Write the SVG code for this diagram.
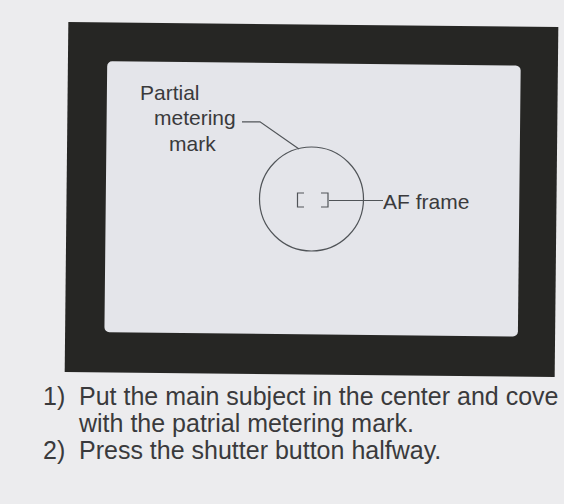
<svg xmlns="http://www.w3.org/2000/svg" width="564" height="504" viewBox="0 0 564 504">
  <style>
    .lbl { font-family: "Liberation Sans", Arial, sans-serif; font-size: 21px; fill: #3a3a3c; }
    .body { font-family: "Liberation Sans", Arial, sans-serif; font-size: 25px; fill: #3a3a3c; }
    .ln { fill: none; stroke: #505458; stroke-width: 1.2; }
  </style>
  <rect x="0" y="0" width="564" height="504" fill="#ececee"/>
  <g id="viewfinder">
    <rect x="66.5" y="24.5" width="490" height="350" fill="#262624" transform="rotate(0.6 311.5 199.5)"/>
    <rect x="105.8" y="63.4" width="413.5" height="271" rx="5" fill="#e4e5ea" transform="rotate(0.6 312.5 198.8)"/>
  </g>
  <g id="metering-mark">
    <circle cx="311.5" cy="199" r="52" class="ln"/>
  </g>
  <g id="af-frame">
    <path d="M304 193 H297.5 V207 H304 M321 193 H328 V207 H321" class="ln" stroke-width="1.6"/>
  </g>
  <g id="label-partial">
    <text class="lbl" x="140" y="99.5">Partial</text>
    <text class="lbl" x="154" y="125">metering</text>
    <text class="lbl" x="169" y="151">mark</text>
  </g>
  <g id="label-af">
    <text class="lbl" x="383" y="209">AF frame</text>
  </g>
  <g id="connectors">
    <path d="M242 121.8 H260 L299 149" class="ln"/>
    <path d="M329 200.5 H383" class="ln"/>
  </g>
  <g id="instructions">
    <text class="body" x="43" y="405">1)</text>
    <text class="body" x="79" y="405">Put the main subject in the center and cove</text>
    <text class="body" x="79" y="432">with the patrial metering mark.</text>
    <text class="body" x="43" y="459">2)</text>
    <text class="body" x="79" y="459">Press the shutter button halfway.</text>
  </g>
</svg>
